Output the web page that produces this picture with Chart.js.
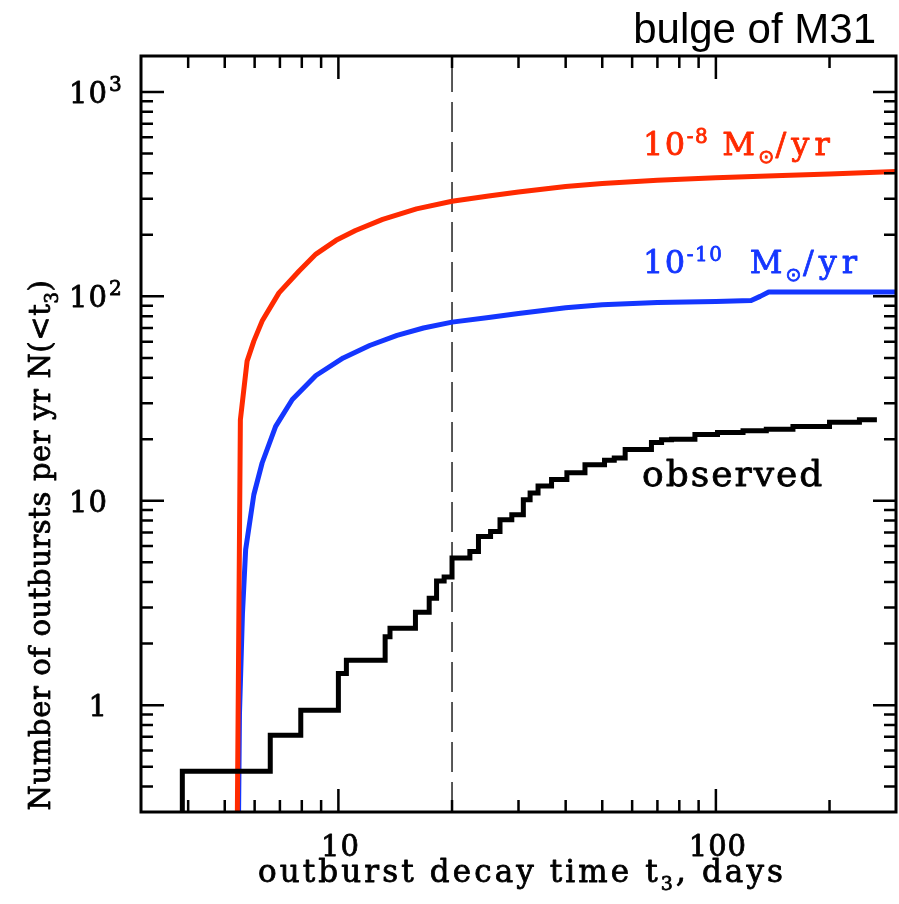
<!DOCTYPE html>
<html>
<head>
<meta charset="utf-8">
<script src="https://cdn.jsdelivr.net/npm/chart.js@4.4.1/dist/chart.umd.min.js"></script>
<style>
  html, body { margin: 0; padding: 0; background: #fff; }
</style>
</head>
<body>
<canvas id="rateChart" width="899" height="904"></canvas>
<script>
// decay time t3 (days) and cumulative rate N(<t3) per year
var highRateT = [5.40, 5.50, 5.73, 5.97, 6.28, 6.96, 7.87, 8.72, 9.86, 11.1, 13.1, 16.1, 20.0, 25, 30, 40, 50, 70, 100, 150, 200, 300];
var highRateN = [0.3, 24.9, 48.2, 60.4, 75.7, 104, 133, 161, 188, 210, 238, 268, 292, 310, 324, 345, 357, 370, 381, 390, 397, 408];

var lowRateT = [5.44, 5.47, 5.57, 5.68, 5.97, 6.28, 6.82, 7.55, 8.72, 10.3, 12.1, 14.3, 16.8, 20.0, 25, 30, 40, 50, 70, 100, 124, 131, 138, 300];
var lowRateN = [0.3, 0.91, 2.8, 5.76, 10.7, 15.3, 23.1, 31.3, 41.0, 50.0, 57.5, 64.5, 70.0, 74.8, 78.8, 82.5, 88.0, 91.0, 93.2, 94.5, 95.5, 100, 105, 105];

var observedT = [3.86, 3.86, 6.6, 7.95, 10.0, 10.5, 13.3, 13.7, 16.0, 17.4, 18.2, 19.06, 20.0, 22.3, 23.5, 25.3, 26.8, 28.8, 30.9, 32.2, 33.8, 36.7, 40.3, 45.0, 50.7, 53.8, 57.5, 67.5, 71.8, 76.3, 88, 101, 118, 136, 160, 200, 240, 267];
var observedN = [0.3, 0.475, 0.713, 0.945, 1.43, 1.66, 2.16, 2.38, 2.85, 3.33, 4.05, 4.23, 5.24, 5.64, 6.69, 7.08, 8.07, 8.54, 10.1, 10.9, 11.8, 12.7, 13.7, 15.0, 15.8, 16.2, 17.8, 19.3, 19.9, 20.0, 21.1, 21.6, 22.0, 22.4, 23.1, 24.2, 24.9, 24.9];

var cutT = 20;   // dashed marker

var xRange = [3, 300];
var yRange = [0.3, 1500];

var xTickValues = [10, 100];
var xTickText = ['10', '100'];
var yTickValues = [1, 10, 100, 1000];
var yTickText = ['1', '10', '10', '10'];
var yTickExp = ['', '', '2', '3'];

var RED = '#ff2a00';
var BLUE = '#1436ff';
var SERIF = '"DejaVu Serif"';

function toPoints(xs, ys) {
    return xs.map(function (t, i) { return { x: t, y: ys[i] }; });
}

// minor ticks at 2..9 x 10^n inside the axis range
function minorTicks(range) {
    var out = [];
    for (var d = -1; d <= 3; d++) {
        for (var k = 2; k <= 9; k++) {
            var v = k * Math.pow(10, d);
            if (v > range[0] * 1.001 && v < range[1] * 0.999) out.push(v);
        }
    }
    return out;
}

// text made of pieces: [text, size, dy, family, spacing]
function drawRuns(ctx, x, y, runs, align, spacing, weight) {
    function setRun(r) {
        ctx.font = r[1] + 'px ' + (r[3] || SERIF);
        ctx.letterSpacing = (r[4] != null ? r[4] : (spacing || 0)) + 'px';
    }
    var total = 0;
    runs.forEach(function (r) {
        setRun(r);
        total += ctx.measureText(r[0]).width;
    });
    var cx = x;
    if (align === 'center') cx = x - total / 2;
    if (align === 'right') cx = x - total;
    ctx.textAlign = 'left';
    ctx.textBaseline = 'alphabetic';
    ctx.strokeStyle = ctx.fillStyle;
    ctx.lineWidth = weight || 0.8;
    ctx.lineJoin = 'round';
    runs.forEach(function (r) {
        setRun(r);
        ctx.fillText(r[0], cx, y + r[2]);
        if (weight !== 0) ctx.strokeText(r[0], cx, y + r[2]);
        cx += ctx.measureText(r[0]).width;
    });
    ctx.letterSpacing = '0px';
}

var axesPlugin = {
    id: 'axesPlugin',
    afterDatasetsDraw: function (chart) {
        var ctx = chart.ctx;
        var a = chart.chartArea;
        var xs = chart.scales.x, ys = chart.scales.y;
        ctx.save();

        // frame
        ctx.strokeStyle = '#000';
        ctx.lineWidth = 3;
        ctx.strokeRect(a.left, a.top, a.right - a.left, a.bottom - a.top);

        // inward ticks on all four sides
        ctx.lineWidth = 2.5;
        ctx.beginPath();
        function xTick(v, len) {
            var px = xs.getPixelForValue(v);
            ctx.moveTo(px, a.bottom); ctx.lineTo(px, a.bottom - len);
            ctx.moveTo(px, a.top); ctx.lineTo(px, a.top + len);
        }
        function yTick(v, len) {
            var py = ys.getPixelForValue(v);
            ctx.moveTo(a.left, py); ctx.lineTo(a.left + len, py);
            ctx.moveTo(a.right, py); ctx.lineTo(a.right - len, py);
        }
        minorTicks(xRange).forEach(function (v) { xTick(v, 12); });
        xTickValues.forEach(function (v) { xTick(v, 23); });
        minorTicks(yRange).forEach(function (v) { yTick(v, 12); });
        yTickValues.forEach(function (v) { yTick(v, 23); });
        ctx.stroke();

        // tick labels
        ctx.fillStyle = '#000';
        xTickValues.forEach(function (v, i) {
            drawRuns(ctx, xs.getPixelForValue(v) + 2, a.bottom + 44, [[xTickText[i], 29, 0]], 'center', 1);
        });
        yTickValues.forEach(function (v, i) {
            var py = ys.getPixelForValue(v) + 11;
            drawRuns(ctx, a.left - 33, py, [[yTickText[i], 29, 0]], 'right', 1);
            if (yTickExp[i]) drawRuns(ctx, a.left - 32, py, [[yTickExp[i], 20, -12]], 'left', 0);
        });

        // axis titles
        drawRuns(ctx, 522, 882, [
            ['outburst decay time t', 31, 0],
            ['3', 19, 8],
            [', days', 31, 0]
        ], 'center', 3.1);

        ctx.save();
        ctx.translate(50, 545);
        ctx.rotate(-Math.PI / 2);
        drawRuns(ctx, 0, 0, [
            ['Number of outbursts per yr N(<t', 29, 0],
            ['3', 18, 8],
            [')', 29, 0]
        ], 'center', 0.6);
        ctx.restore();

        // curve labels
        ctx.fillStyle = RED;
        drawRuns(ctx, 643, 155, [
            ['10', 32, 0], ['-8', 20, -12], [' M', 32, 0, null, 3],
            ['\u2299', 19, 8, '"DejaVu Sans"'], ['/yr', 32, 0, null, 5]
        ], 'left', 1.5);
        ctx.fillStyle = BLUE;
        drawRuns(ctx, 643, 273, [
            ['10', 32, 0], ['-10', 20, -12], ['  M', 32, 0, null, 3],
            ['\u2299', 19, 8, '"DejaVu Sans"'], ['/yr', 32, 0, null, 5]
        ], 'left', 1.5);
        ctx.fillStyle = '#000';
        drawRuns(ctx, 642, 486, [['observed', 36, 0]], 'left', 2);

        // panel title
        drawRuns(ctx, 876, 43, [['bulge of M31', 42, 0, '"Liberation Sans"']], 'right', 0, 0);

        ctx.restore();
    }
};

var ctx = document.getElementById('rateChart').getContext('2d');

new Chart(ctx, {
    type: 'line',
    data: {
        datasets: [
            {
                label: 'observed',
                data: toPoints(observedT, observedN),
                borderColor: '#000',
                borderWidth: 5,
                stepped: true,
                pointRadius: 0,
                fill: false
            },
            {
                label: '1e-8 Msun/yr',
                data: toPoints(highRateT, highRateN),
                borderColor: RED,
                borderWidth: 5,
                borderJoinStyle: 'round',
                pointRadius: 0,
                fill: false
            },
            {
                label: '1e-10 Msun/yr',
                data: toPoints(lowRateT, lowRateN),
                borderColor: BLUE,
                borderWidth: 5,
                borderJoinStyle: 'round',
                pointRadius: 0,
                fill: false
            },
            {
                label: 't3 = 20 d',
                data: [{ x: cutT, y: yRange[0] }, { x: cutT, y: yRange[1] }],
                borderColor: '#222',
                borderWidth: 1.5,
                borderDash: [30, 10],
                pointRadius: 0,
                fill: false
            }
        ]
    },
    options: {
        responsive: false,
        animation: false,
        layout: { padding: { left: 141, right: 3, top: 56, bottom: 92 } },
        plugins: {
            legend: { display: false },
            tooltip: { enabled: false }
        },
        scales: {
            x: { type: 'logarithmic', min: xRange[0], max: xRange[1], display: false },
            y: { type: 'logarithmic', min: yRange[0], max: yRange[1], display: false }
        }
    },
    plugins: [axesPlugin]
});
</script>
</body>
</html>
